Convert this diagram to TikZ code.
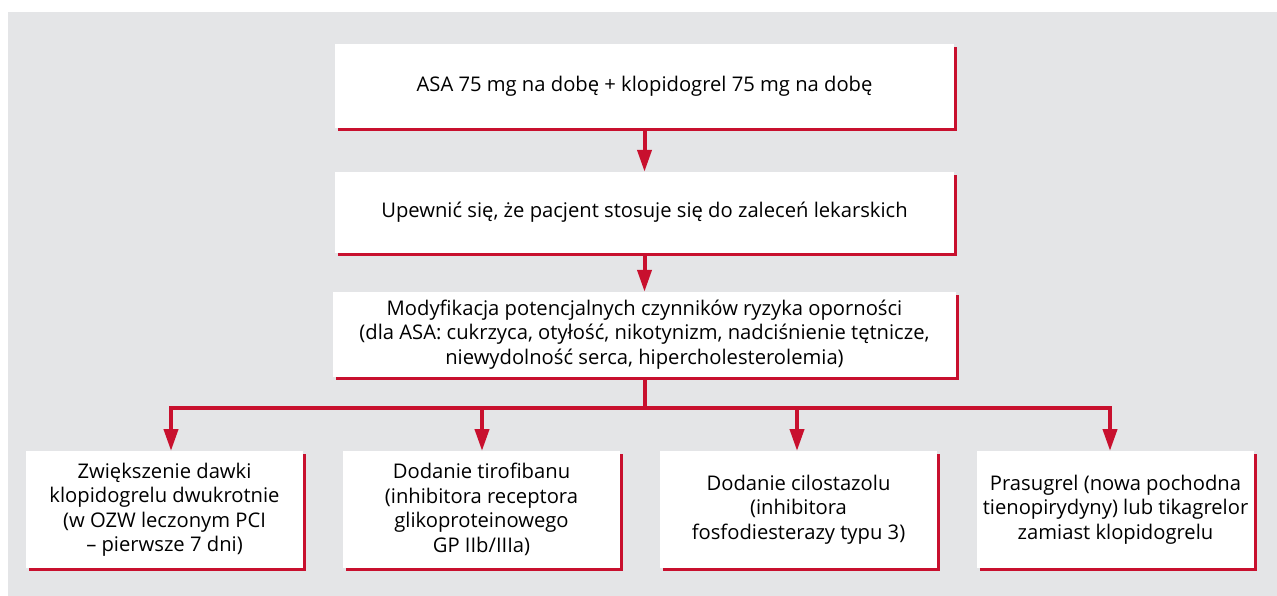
\documentclass[tikz,border=0pt]{standalone}
\usepackage{fontspec}
\setmainfont{Open Sans}
\usetikzlibrary{arrows.meta,shadows}
\definecolor{crim}{HTML}{C8102E}
\definecolor{bggray}{HTML}{E4E5E7}
\tikzset{
  box/.style={fill=white, draw=none, inner sep=0pt, align=center,
    font=\fontsize{20.2}{24.5}\selectfont,
    drop shadow={shadow xshift=3pt, shadow yshift=-3pt, fill=crim, opacity=1}},
  link/.style={draw=crim, line width=4pt, miter limit=10},
  arr/.style={link, -{Triangle[width=14pt,length=22pt]}}
}
\begin{document}
\begin{tikzpicture}[x=1pt,y=-1pt]
\useasboundingbox (0,0) rectangle (1277,596);
\fill[bggray] (8,12) rectangle (1277,596);
\node[box, minimum width=619pt, minimum height=84pt] (b1) at (644.5,86) {ASA 75 mg na dobę + klopidogrel 75 mg na dobę};
\node[box, minimum width=619pt, minimum height=81pt] (b2) at (644.5,212.5) {Upewnić się, że pacjent stosuje się do zaleceń lekarskich};
\node[box, minimum width=623pt, minimum height=85pt] (b3) at (644.5,334.5) {Modyfikacja potencjalnych czynników ryzyka oporności\\(dla ASA: cukrzyca, otyłość, nikotynizm, nadciśnienie tętnicze,\\niewydolność serca, hipercholesterolemia)};
\node[box, minimum width=277pt, minimum height=117pt] (b4) at (164.5,509.5) {Zwiększenie dawki\\klopidogrelu dwukrotnie\\(w OZW leczonym PCI\\– pierwsze 7 dni)};
\node[box, minimum width=277pt, minimum height=117pt] (b5) at (481.5,509.5) {Dodanie tirofibanu\\(inhibitora receptora\\glikoproteinowego\\GP IIb/IIIa)};
\node[box, minimum width=277pt, minimum height=117pt] (b6) at (798.5,509.5) {Dodanie cilostazolu\\(inhibitora\\fosfodiesterazy typu 3)};
\node[box, minimum width=277pt, minimum height=117pt] (b7) at (1115.5,509.5) {Prasugrel (nowa pochodna\\tienopirydyny) lub tikagrelor\\zamiast klopidogrelu};
\coordinate (bus) at (644.5,408);
\coordinate (t4) at (171,451);
\coordinate (t5) at (482,451);
\coordinate (t6) at (797,451);
\coordinate (t7) at (1110,451);
\draw[arr] (b1.south) -- (b2.north);
\draw[arr] (b2.south) -- (b3.north);
\draw[link] (b3.south) -- (bus);
\draw[arr] (bus) -| (t4);
\draw[arr] (bus) -| (t5);
\draw[arr] (bus) -| (t6);
\draw[arr] (bus) -| (t7);
\end{tikzpicture}
\end{document}
